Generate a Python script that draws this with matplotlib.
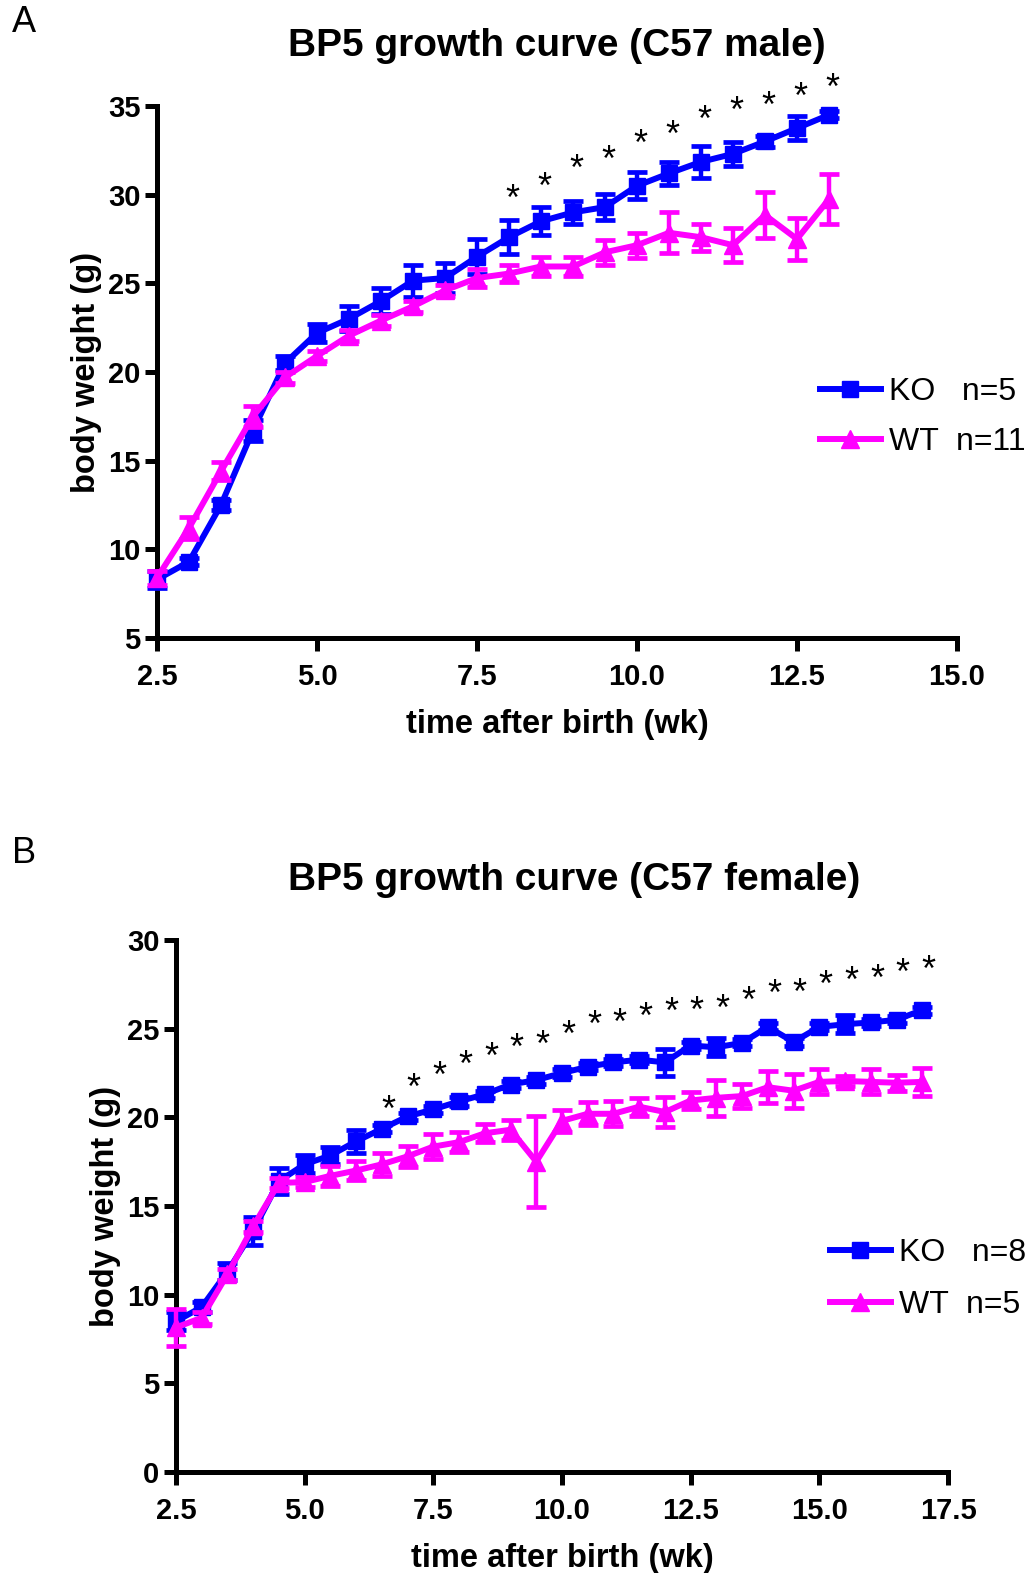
import matplotlib
matplotlib.use("Agg")
import matplotlib.pyplot as plt

plt.rcParams["font.family"] = ["Liberation Sans", "DejaVu Sans"]

# ---- panel A: C57 male ----
weeks_a = [2.5, 3.0, 3.5, 4.0, 4.5, 5.0, 5.5, 6.0, 6.5, 7.0, 7.5, 8.0,
           8.5, 9.0, 9.5, 10.0, 10.5, 11.0, 11.5, 12.0, 12.5, 13.0]
ko_a = [8.3, 9.3, 12.5, 16.7, 20.5, 22.2, 23.0, 24.0, 25.15, 25.3, 26.5, 27.6,
        28.5, 29.0, 29.3, 30.5, 31.2, 31.85, 32.3, 33.0, 33.75, 34.5]
ko_a_sem = [0.5, 0.2, 0.3, 0.6, 0.4, 0.5, 0.7, 0.75, 0.9, 0.85, 1.0, 0.95,
            0.8, 0.65, 0.75, 0.77, 0.66, 0.9, 0.66, 0.3, 0.66, 0.2]
wt_a = [8.4, 11.2, 14.4, 17.5, 19.7, 20.9, 22.05, 22.9, 23.7, 24.6, 25.3, 25.55,
        25.95, 25.95, 26.75, 27.15, 27.85, 27.6, 27.15, 28.85, 27.5, 29.75]
wt_a_sem = [0.4, 0.6, 0.5, 0.6, 0.3, 0.3, 0.3, 0.3, 0.3, 0.3, 0.5, 0.5,
            0.55, 0.55, 0.7, 0.7, 1.15, 0.75, 0.95, 1.3, 1.2, 1.4]
star_x_a = [8.0, 8.5, 9.0, 9.5, 10.0, 10.5, 11.0, 11.5, 12.0, 12.5, 13.0]
star_y_a = [29.9, 30.6, 31.6, 32.1, 33.0, 33.55, 34.4, 34.9, 35.15, 35.7, 36.2]

# ---- panel B: C57 female ----
weeks_b = [2.5, 3.0, 3.5, 4.0, 4.5, 5.0, 5.5, 6.0, 6.5, 7.0, 7.5, 8.0, 8.5, 9.0, 9.5,
           10.0, 10.5, 11.0, 11.5, 12.0, 12.5, 13.0, 13.5, 14.0, 14.5, 15.0, 15.5,
           16.0, 16.5, 17.0]
ko_b = [8.5, 9.3, 11.3, 13.6, 16.4, 17.35, 17.85, 18.65, 19.35, 20.05, 20.45, 20.9,
        21.3, 21.85, 22.1, 22.5, 22.85, 23.1, 23.25, 23.1, 24.05, 23.95, 24.2, 25.1,
        24.25, 25.1, 25.25, 25.35, 25.5, 26.05]
ko_b_sem = [0.5, 0.3, 0.5, 0.8, 0.75, 0.5, 0.5, 0.65, 0.2, 0.2, 0.2, 0.25, 0.2, 0.2,
            0.2, 0.2, 0.2, 0.2, 0.2, 0.75, 0.2, 0.5, 0.2, 0.2, 0.2, 0.2, 0.5, 0.2,
            0.2, 0.2]
wt_b = [8.15, 8.7, 11.15, 13.85, 16.3, 16.35, 16.7, 17.0, 17.35, 17.8, 18.35, 18.6,
        19.1, 19.3, 17.5, 19.8, 20.2, 20.2, 20.6, 20.3, 20.95, 21.1, 21.2, 21.7, 21.5,
        22.0, 22.05, 22.0, 21.95, 22.0]
wt_b_sem = [1.05, 0.35, 0.3, 0.3, 0.3, 0.3, 0.55, 0.55, 0.65, 0.6, 0.7, 0.55, 0.5,
            0.55, 2.55, 0.6, 0.65, 0.7, 0.5, 0.85, 0.5, 1.0, 0.7, 0.9, 0.95, 0.7,
            0.3, 0.7, 0.45, 0.8]
star_x_b = [6.5, 7.0, 7.5, 8.0, 8.5, 9.0, 9.5, 10.0, 10.5, 11.0, 11.5, 12.0, 12.5,
            13.0, 13.5, 14.0, 14.5, 15.0, 15.5, 16.0, 16.5, 17.0]
star_y_b = [20.6, 21.8, 22.5, 23.1, 23.55, 24.05, 24.25, 24.8, 25.35, 25.5, 25.85,
            26.1, 26.15, 26.3, 26.75, 27.1, 27.2, 27.65, 27.85, 27.95, 28.3, 28.5]

BLUE = "#0000ff"
MAGENTA = "#ff00ff"
W, H = 1035, 1573


def fx(px):
    return px / W


def fy(py):
    return 1 - py / H


def draw_panel(ax, weeks, ko, ko_sem, wt, wt_sem, stars_x, stars_y, star_dx,
               xlim, xticks, ylim, yticks):
    eb_ko = ax.errorbar(weeks, ko, yerr=ko_sem, color=BLUE, lw=4.3, marker="s",
                        ms=11.5, elinewidth=3.2, capsize=7.2, capthick=3.4,
                        clip_on=False, zorder=3)
    eb_wt = ax.errorbar(weeks, wt, yerr=wt_sem, color=MAGENTA, lw=4.3, marker="^",
                        ms=12.5, elinewidth=3.2, capsize=7.2, capthick=3.4,
                        clip_on=False, zorder=4)
    for sx, sy in zip(stars_x, stars_y):
        ax.text(sx + star_dx, sy - 0.25, "*", ha="center", va="center",
                fontsize=26, color="black")

    ax.set_xlim(*xlim)
    ax.set_ylim(*ylim)
    ax.set_xticks(xticks)
    ax.set_xticklabels([f"{t:.1f}" for t in xticks])
    ax.set_yticks(yticks)
    for side in ("top", "right"):
        ax.spines[side].set_visible(False)
    for side in ("left", "bottom"):
        ax.spines[side].set_linewidth(3.6)
    ax.tick_params(direction="out", length=9, width=3.6, labelsize=21)
    ax.tick_params(axis="x", pad=9)
    ax.tick_params(axis="y", pad=3)
    for lab in ax.get_xticklabels() + ax.get_yticklabels():
        lab.set_fontweight("bold")
    ax.set_xlabel("time after birth (wk)", fontsize=23.5, fontweight="bold",
                  labelpad=13)
    ax.set_ylabel("body weight (g)", fontsize=23.5, fontweight="bold",
                  labelpad=4)
    return [eb_ko[0], eb_wt[0]]


def add_legend(handles, labels, x_px, y_px, spacing):
    fig.legend(handles, labels, loc="center left",
               bbox_to_anchor=(fx(x_px), fy(y_px)), frameon=False, fontsize=23,
               handlelength=1.9, handletextpad=0.25, labelspacing=spacing,
               borderpad=0, borderaxespad=0, numpoints=1)


fig = plt.figure(figsize=(W / 100, H / 100), dpi=100)

ax_a = fig.add_axes([fx(157), fy(638), fx(800), 532 / H])
handles = draw_panel(ax_a, weeks_a, ko_a, ko_a_sem, wt_a, wt_a_sem,
                     star_x_a, star_y_a, 0.06, (2.5, 15.0),
                     [2.5, 5.0, 7.5, 10.0, 12.5, 15.0], (5, 35),
                     [5, 10, 15, 20, 25, 30, 35])
add_legend(handles, ["KO   n=5", "WT  n=11"], 820, 417, 0.62)
fig.text(fx(557), fy(46), "BP5 growth curve (C57 male)", ha="center",
         va="center", fontsize=28, fontweight="bold")
fig.text(fx(12), fy(22), "A", ha="left", va="center", fontsize=26)

ax_b = fig.add_axes([fx(176), fy(1472), fx(772), 532 / H])
handles = draw_panel(ax_b, weeks_b, ko_b, ko_b_sem, wt_b, wt_b_sem,
                     star_x_b, star_y_b, 0.12, (2.5, 17.5),
                     [2.5, 5.0, 7.5, 10.0, 12.5, 15.0, 17.5], (0, 30),
                     [0, 5, 10, 15, 20, 25, 30])
add_legend(handles, ["KO   n=8", "WT  n=5"], 830, 1279, 0.68)
fig.text(fx(574), fy(880), "BP5 growth curve (C57 female)", ha="center",
         va="center", fontsize=28, fontweight="bold")
fig.text(fx(12), fy(853), "B", ha="left", va="center", fontsize=26)

fig.savefig("out.png", dpi=100)
